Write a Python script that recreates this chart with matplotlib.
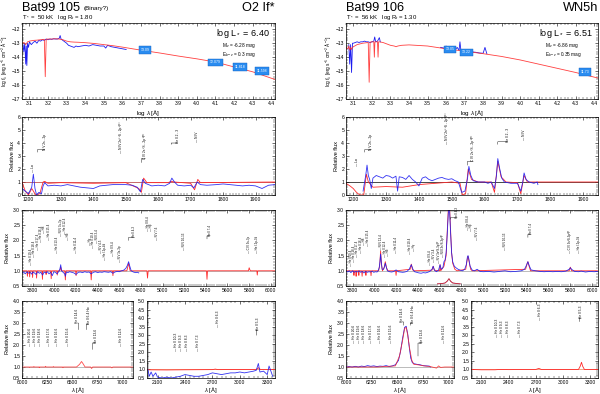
import numpy as np
import matplotlib.pyplot as plt
from matplotlib.ticker import MultipleLocator

plt.rcParams['font.family'] = ['Liberation Sans', 'DejaVu Sans']
plt.rcParams['mathtext.fontset'] = 'custom'
plt.rcParams['mathtext.rm'] = 'Liberation Sans'
plt.rcParams['mathtext.it'] = 'Liberation Sans:italic'

BLUE = '#1c1cf0'
RED = '#ff2b2b'

# ---------------- SED (log lambda, log f) ----------------
sed_mod_105 = [(3.06, -13.0), (3.07, -12.95), (3.08, -13.1), (3.09, -12.9), (3.10, -12.85), (3.12, -12.8),
               (3.14, -12.78), (3.16, -12.75), (3.18, -12.72), (3.185, -15.4), (3.19, -12.72), (3.20, -12.7),
               (3.22, -12.7), (3.24, -12.68), (3.26, -12.7), (3.28, -12.75), (3.30, -12.85), (3.32, -12.9),
               (3.34, -12.92), (3.36, -12.93), (3.40, -12.96), (3.45, -13.02), (3.50, -13.1), (3.55, -13.18),
               (3.60, -13.28), (3.70, -13.5), (3.80, -13.7), (3.90, -13.92), (4.00, -14.12), (4.10, -14.35),
               (4.20, -14.7), (4.30, -15.05), (4.42, -15.6)]
sed_obs_105 = [(3.065, -13.1), (3.07, -13.6), (3.075, -13.0), (3.08, -14.5), (3.083, -13.2), (3.086, -14.6),
               (3.09, -13.0), (3.095, -13.3), (3.10, -12.9), (3.11, -13.1), (3.12, -12.95), (3.13, -12.85),
               (3.14, -13.0), (3.15, -12.8), (3.16, -12.85), (3.17, -12.75), (3.18, -12.8), (3.19, -12.7),
               (3.20, -12.75), (3.21, -12.7), (3.22, -12.72), (3.23, -12.68), (3.24, -12.7), (3.25, -12.7),
               (3.26, -12.65), (3.265, -12.45), (3.27, -12.7), (3.28, -12.8), (3.29, -12.9), (3.30, -13.0),
               (3.31, -13.15), (3.32, -13.2), (3.33, -13.25), (3.34, -13.3), (3.35, -13.2), (3.36, -13.25),
               (3.38, -13.2), (3.40, -13.15), (3.42, -13.2), (3.44, -13.1), (3.46, -13.15), (3.48, -13.2),
               (3.50, -13.2), (3.51, -13.35), (3.52, -13.15), (3.54, -13.25), (3.56, -13.3), (3.58, -13.35),
               (3.60, -13.4), (3.62, -13.45)]
phot_105 = [(3.72, -13.5, '13.09'), (4.10, -14.38, '12.079'), (4.23, -14.72, '11.818'), (4.35, -14.98, '11.598')]

sed_mod_106 = [(3.06, -13.3), (3.07, -13.4), (3.075, -13.2), (3.08, -13.5), (3.085, -13.3), (3.09, -13.45),
               (3.095, -13.3), (3.10, -13.25), (3.12, -13.1), (3.15, -13.0), (3.18, -12.95), (3.185, -15.8),
               (3.19, -12.95), (3.195, -12.9), (3.20, -12.9), (3.21, -12.9), (3.213, -14.0), (3.216, -12.9),
               (3.22, -12.9), (3.23, -12.9), (3.233, -14.0), (3.236, -12.9), (3.24, -12.9), (3.26, -12.95),
               (3.30, -13.15), (3.32, -13.2), (3.33, -13.25), (3.34, -13.2), (3.36, -13.15), (3.40, -13.12),
               (3.50, -13.2), (3.60, -13.4), (3.70, -13.57), (3.80, -13.75), (3.90, -13.95), (4.00, -14.2),
               (4.10, -14.5), (4.20, -14.8), (4.30, -15.1), (4.42, -15.5)]
sed_obs_106_uv = [(3.075, -13.1), (3.08, -14.5), (3.085, -13.1), (3.09, -15.1), (3.095, -13.0), (3.10, -13.0),
                  (3.11, -12.95), (3.12, -12.9), (3.13, -12.95), (3.14, -12.9), (3.15, -12.9), (3.16, -12.85),
                  (3.17, -12.9), (3.18, -12.9), (3.19, -12.95), (3.20, -12.9), (3.21, -12.85), (3.215, -12.55),
                  (3.22, -12.9), (3.23, -12.85), (3.24, -12.6), (3.245, -12.9)]
sed_obs_106_opt = [(3.57, -13.3), (3.59, -13.35), (3.60, -13.2), (3.61, -13.4), (3.62, -13.4), (3.63, -13.45),
                   (3.65, -13.45), (3.66, -13.3), (3.67, -13.5), (3.675, -12.9), (3.68, -13.5), (3.70, -13.55),
                   (3.72, -13.6), (3.74, -13.62), (3.76, -13.65), (3.78, -13.7), (3.80, -13.72), (3.81, -13.3),
                   (3.82, -13.75)]
phot_106 = [(3.62, -13.45, '13.05'), (3.71, -13.65, '13.22'), (4.35, -15.05, '11.73')]

# ---------------- UV (1180 - 1960 A) ----------------
uv_obs_105 = [(1180, 0.5), (1190, 0.3), (1200, 0.1), (1210, 0.6), (1215, 1.6), (1220, 0.5), (1225, 0.0),
              (1232, 0.2), (1240, 0.1), (1245, 0.7), (1250, 0.95), (1260, 0.7), (1280, 0.75), (1300, 0.7),
              (1320, 0.8), (1340, 0.7), (1360, 0.6), (1380, 0.55), (1400, 0.5), (1420, 0.7), (1440, 0.75),
              (1460, 0.8), (1480, 0.8), (1500, 0.8), (1520, 0.75), (1535, 0.6), (1545, 0.25), (1552, 1.2),
              (1560, 0.9), (1580, 0.7), (1600, 0.75), (1620, 0.7), (1635, 0.9), (1642, 1.3), (1650, 1.0),
              (1660, 0.75), (1680, 0.7), (1700, 0.75), (1710, 0.55), (1720, 1.0), (1730, 0.8), (1750, 0.75),
              (1780, 0.8), (1800, 0.85), (1820, 0.8), (1840, 0.75), (1860, 0.7), (1880, 0.75), (1900, 0.7),
              (1920, 0.5), (1940, 0.75), (1960, 0.8)]
uv_mod_105 = [(1180, 1.0), (1190, 0.3), (1200, 0.0), (1210, 0.5), (1215, 0.3), (1222, 0.0), (1235, 0.1),
              (1245, 1.0), (1250, 1.05), (1260, 0.9), (1300, 0.95), (1400, 0.9), (1500, 0.95), (1540, 0.5),
              (1548, 0.2), (1555, 1.3), (1565, 0.95), (1630, 0.95), (1640, 1.05), (1650, 1.0), (1700, 0.9),
              (1712, 0.4), (1722, 1.2), (1730, 0.95), (1960, 1.0)]

uv_obs_106 = [(1230, 0.3), (1238, 1.5), (1242, 2.3), (1246, 1.5), (1250, 1.2), (1255, 0.5), (1260, 1.3),
              (1270, 1.5), (1280, 1.4), (1290, 1.3), (1300, 1.5), (1310, 1.45), (1320, 1.3), (1330, 1.45),
              (1335, 0.3), (1340, 1.4), (1350, 1.35), (1360, 1.2), (1370, 1.5), (1380, 1.2), (1390, 1.0),
              (1400, 0.7), (1410, 1.3), (1420, 1.4), (1430, 1.2), (1440, 1.1), (1450, 1.2), (1460, 1.3),
              (1470, 1.35), (1480, 1.25), (1490, 1.2), (1500, 1.25), (1510, 1.1), (1520, 1.0), (1530, 0.2),
              (1540, 0.3), (1548, 1.3), (1552, 2.2), (1558, 1.5), (1565, 1.1), (1580, 1.0), (1600, 1.0),
              (1610, 0.9), (1620, 1.0), (1630, 0.5), (1636, 1.5), (1640, 2.8), (1646, 2.0), (1652, 1.3),
              (1660, 1.0), (1680, 0.9), (1700, 0.9), (1710, 0.3), (1716, 1.0), (1720, 1.7), (1726, 1.2),
              (1735, 1.0), (1750, 0.9), (1760, 1.0), (1762, 0.8)]
uv_mod_106 = [(1178, 0.9), (1190, 0.7), (1200, 0.5), (1210, 0.2), (1220, 0.0), (1232, 0.0), (1240, 1.6),
              (1246, 1.0), (1260, 0.6), (1300, 0.65), (1350, 0.6), (1400, 0.8), (1450, 0.9), (1500, 1.0),
              (1525, 0.9), (1532, 0.0), (1542, 0.1), (1550, 2.0), (1560, 1.2), (1580, 1.0), (1620, 1.0),
              (1630, 0.2), (1640, 2.6), (1650, 1.4), (1665, 1.0), (1700, 0.95), (1710, 0.1), (1720, 1.5),
              (1730, 1.0), (1945, 1.0)]

uv_ids_105 = [(1215, 'Lα', 1.8), (1486, 'N IV 2s² ¹S - 2p ¹P°', 3.2), (1720, 'N IV', 4.1)]
uv_bent_105 = [(1228, 3.3, 1250, 3.5, 'N V 2s - 2p'), (1548, 2.5, 1560, 2.8, 'C IV 2s ²S - 2p ²P°'),
               (1640, 3.9, 1660, 4.0, 'He II 2 - 3')]
uv_ids_106 = [(1212, 'Lα', 2.2), (1486, 'N IV 2s² ¹S - 2p ¹P°', 3.9), (1720, 'N IV', 4.2)]
uv_bent_106 = [(1235, 3.3, 1255, 3.5, 'N V 2s - 2p'), (1548, 2.3, 1565, 2.6, 'C IV 2s ²S - 2p ²P°'),
               (1640, 3.9, 1670, 4.1, 'He II 2 - 3')]

# ---------------- optical (3700 - 6000 A) ----------------
opt_obs_105 = [(3700, 0.93), (3715, 0.96), (3730, 0.9), (3745, 0.97), (3760, 0.92), (3775, 0.95), (3790, 0.89),
               (3800, 0.96), (3815, 0.93), (3830, 0.88), (3845, 0.97), (3860, 0.92), (3875, 0.95), (3890, 0.86),
               (3905, 0.96), (3920, 0.93), (3935, 0.97), (3950, 0.9), (3965, 0.95), (3980, 0.84), (3995, 0.97),
               (4010, 0.95), (4025, 0.9), (4040, 0.98), (4050, 1.05), (4058, 1.2), (4066, 1.0), (4080, 0.95),
               (4095, 0.9), (4101, 0.82), (4110, 0.96), (4125, 0.94), (4140, 0.97), (4160, 0.95), (4180, 0.93),
               (4200, 0.88), (4220, 0.95), (4240, 0.96), (4260, 0.94), (4280, 0.97), (4300, 0.95), (4320, 0.96),
               (4340, 0.9), (4360, 0.95), (4380, 0.97), (4400, 0.94), (4420, 0.96), (4440, 0.95), (4460, 0.97),
               (4480, 0.96), (4500, 0.95), (4520, 0.97), (4541, 0.92), (4560, 0.96), (4580, 0.98), (4600, 0.97),
               (4620, 1.0), (4640, 1.02), (4660, 1.08), (4675, 1.18), (4686, 1.3), (4697, 1.15), (4710, 1.0),
               (4730, 0.96), (4750, 0.94), (4770, 0.95), (4780, 0.93)]
opt_mod_105 = [(3700, 1.0), (3745, 1.0), (3750, 0.82), (3755, 1.0), (3767, 1.0), (3771, 0.8), (3775, 1.0),
               (3794, 1.0), (3798, 0.78), (3802, 1.0), (3831, 1.0), (3835, 0.76), (3839, 1.0), (3885, 1.0),
               (3889, 0.72), (3893, 1.0), (3920, 1.0), (3923, 0.88), (3926, 1.0), (3966, 1.0), (3970, 0.74),
               (3974, 1.0), (4022, 1.0), (4026, 0.86), (4030, 1.0), (4050, 1.0), (4058, 1.12), (4066, 1.0),
               (4096, 1.0), (4101, 0.7), (4106, 1.0), (4196, 1.0), (4200, 0.84), (4204, 1.0), (4335, 1.0),
               (4340, 0.7), (4345, 1.0), (4537, 1.0), (4541, 0.84), (4545, 1.0), (4670, 1.0), (4686, 1.25),
               (4700, 1.0), (4855, 1.0), (4861, 0.76), (4867, 1.0), (5406, 1.0), (5411, 0.72), (5416, 1.0),
               (5795, 1.0), (5801, 1.1), (5807, 1.04), (5812, 1.0), (5872, 1.0), (5876, 0.86), (5880, 1.0),
               (6040, 1.0)]
opt_ids_105 = [(3785, 'He II 19-4', 1.2), (3815, 'He II 18-4', 1.45), (3845, 'He II 17-4', 1.7),
               (3875, 'He II 16-4', 1.95), (3905, 'H8', 2.25), (3950, 'He II 15-4', 2.0),
               (4026, 'He II 13-4', 1.6), (4058, 'N IV 3s-3p', 2.15), (4101, 'He II 12-4', 2.2),
               (4125, 'Hδ', 2.0), (4200, 'He II 11-4', 1.6), (4330, 'Hγ', 1.85), (4360, 'He II 10-4', 1.75),
               (4395, 'N III 3-4', 1.9), (4430, 'N V 4-5', 1.6), (4471, 'He I 2p-4d', 1.35),
               (4541, 'He II 9-4', 1.5), (4604, 'N V 3s-3p', 1.3), (4861, 'He II 8-4', 2.3),
               (4890, 'Hβ', 2.3), (4945, 'N V 7-6', 2.0), (5200, 'N IV 10-13', 1.7),
               (5801, 'C IV 3s-3p', 1.6), (5876, 'He I 2p-3d', 1.6)]
opt_bent_105 = [(4686, 2.0, 4740, 2.1, 'He II 4-3'), (5411, 2.05, 5440, 2.15, 'He II 7-4')]

opt_obs_106 = [(3740, 1.0), (3755, 0.96), (3770, 1.0), (3785, 0.94), (3800, 1.0),
               (3815, 0.95), (3830, 0.98), (3845, 0.96), (3860, 1.0), (3875, 0.95), (3890, 0.98), (3905, 0.93),
               (3920, 0.98), (3935, 0.95), (3950, 0.97), (3965, 0.96), (3980, 0.99), (3995, 0.95), (4010, 0.97),
               (4025, 0.96), (4035, 1.0), (4045, 1.1), (4052, 1.3), (4058, 1.55), (4064, 1.3), (4072, 1.05),
               (4085, 1.05), (4095, 1.15), (4101, 1.25), (4108, 1.15), (4120, 1.0), (4140, 0.97), (4160, 0.96),
               (4180, 0.98), (4200, 1.03), (4220, 0.97), (4240, 0.96), (4260, 0.95), (4280, 0.96), (4300, 0.98),
               (4320, 1.05), (4340, 1.2), (4355, 1.05), (4370, 0.97), (4390, 0.95), (4410, 0.93), (4430, 0.92),
               (4450, 0.94), (4470, 0.93), (4490, 0.95), (4510, 0.98), (4530, 1.05), (4541, 1.15), (4552, 1.02),
               (4570, 0.97), (4590, 1.02), (4604, 1.2), (4615, 1.05), (4630, 1.1), (4640, 1.3), (4650, 1.35),
               (4660, 1.6), (4670, 2.2), (4680, 2.9), (4686, 3.1), (4692, 2.95), (4700, 2.3), (4710, 1.6),
               (4720, 1.3), (4735, 1.15), (4750, 1.1), (4770, 1.05), (4790, 1.02), (4810, 1.0), (4830, 1.05),
               (4845, 1.2), (4855, 1.45), (4861, 1.5), (4868, 1.4), (4880, 1.15), (4900, 1.02), (4920, 1.0),
               (4945, 1.05), (4970, 0.98), (5000, 0.97), (5050, 0.98), (5100, 0.96), (5150, 0.98), (5200, 1.0),
               (5250, 0.97), (5300, 0.98), (5350, 1.0), (5380, 1.05), (5400, 1.2), (5411, 1.3), (5422, 1.18),
               (5440, 1.03), (5480, 1.0), (5520, 0.98), (5560, 0.97), (5600, 0.98), (5640, 0.97), (5680, 0.98),
               (5720, 0.97), (5760, 0.99), (5790, 1.05), (5801, 1.1), (5812, 1.05), (5840, 0.98), (5876, 0.97),
               (5900, 0.99), (5940, 0.96), (5980, 0.98), (6020, 0.97), (6050, 0.98)]
opt_mod_106 = [(3740, 1.0), (3810, 1.0), (3813, 0.85), (3816, 1.0), (3830, 1.0), (3833, 0.82), (3836, 1.0),
               (3855, 1.0), (3858, 0.85), (3861, 1.0), (3884, 1.0), (3888, 0.82), (3892, 1.0), (3920, 1.0),
               (3923, 0.85), (3926, 1.0), (3966, 1.0), (3970, 0.84), (3974, 1.0), (4040, 1.0), (4050, 1.2),
               (4058, 1.65), (4066, 1.2), (4075, 1.0), (4090, 1.1), (4101, 1.3), (4112, 1.1), (4125, 1.0),
               (4196, 1.0), (4200, 0.85), (4204, 1.0), (4330, 1.05), (4340, 1.22), (4350, 1.05), (4360, 1.0),
               (4530, 1.02), (4541, 1.15), (4552, 1.02), (4600, 1.0), (4604, 1.2), (4610, 1.0), (4640, 1.15),
               (4660, 1.5), (4670, 2.3), (4680, 3.05), (4686, 3.2), (4692, 3.05), (4700, 2.4), (4710, 1.6),
               (4720, 1.25), (4740, 1.05), (4760, 1.0), (4840, 1.05), (4855, 1.4), (4861, 1.48), (4868, 1.35),
               (4885, 1.05), (4900, 1.0), (5390, 1.05), (5405, 1.25), (5411, 1.3), (5418, 1.2), (5435, 1.0),
               (5790, 1.0), (5801, 1.12), (5812, 1.0), (6050, 1.0)]
inset_106 = [(4580, 0.57), (4620, 0.58), (4650, 0.6), (4670, 0.66), (4686, 0.74), (4700, 0.66), (4720, 0.6),
             (4760, 0.58), (4790, 0.57)]
opt_ids_106 = [(3785, 'He II 19-4', 1.15), (3815, 'He II 18-4', 1.3), (3845, 'He II 17-4', 1.45),
               (3875, 'He II 16-4', 1.6), (3905, 'H8', 1.85), (3945, 'He II 15-4', 1.8),
               (4058, 'N IV 13-4', 1.7), (4101, 'He II 12-4', 1.45), (4128, 'Hδ', 1.5),
               (4200, 'He II 11-4', 1.6), (4330, 'He II 10-4', 1.55), (4362, 'Hγ', 1.65),
               (4510, 'He II 9-4', 1.2), (4545, 'N V 3-4', 1.3), (4590, 'N V 3s²S-3p²P', 1.25),
               (4630, 'N III 3s²S-3p²P', 1.45), (4861, 'He II 8-4', 2.35), (4890, 'Hβ', 2.3),
               (4945, 'N V 7-6', 2.0), (5200, 'N IV 10-13', 1.7), (5801, 'C IV 3s²S-3p²P', 1.6),
               (5876, 'He I 2p-3d', 1.6)]
opt_bent_106 = [(4700, 2.7, 4760, 2.75, 'He II 4-3'), (5411, 2.1, 5440, 2.2, 'He II 7-4')]

# ---------------- H alpha region ----------------
ha_mod_105 = [(6000, 1.0), (6070, 1.0), (6074, 0.98), (6078, 1.0), (6115, 1.0), (6118, 1.02), (6121, 1.0),
              (6168, 1.0), (6171, 0.97), (6174, 1.0), (6230, 1.0), (6234, 1.03), (6238, 1.0), (6307, 1.0),
              (6311, 1.02), (6315, 1.0), (6402, 1.0), (6406, 0.97), (6410, 1.0), (6540, 1.0), (6570, 1.12),
              (6590, 1.25), (6605, 1.15), (6625, 1.0), (6680, 1.0), (6690, 0.93), (6700, 1.0), (6880, 1.0),
              (6891, 0.96), (6900, 1.0), (7100, 1.0)]
ha_ids_105 = [(6083, 'He II 20-6', 1.95), (6133, 'He II 19-6', 1.95), (6183, 'He II 18-6', 1.95),
              (6263, 'He II 17-6', 1.95), (6343, 'He II 16-6', 1.95), (6453, 'He II 15-6', 1.95),
              (6983, 'He II 12-6', 1.95)]
ha_bent_105 = [(6560, 2.7, 6550, 3.0, 'He II 14-6'), (6640, 2.7, 6660, 2.95, 'He II 6-4 Hα'),
               (6700, 1.8, 6730, 2.1, 'He II 13-6')]

ha_obs_106 = [(6000, 1.0), (6030, 1.02), (6060, 1.0), (6090, 1.03), (6120, 1.0), (6150, 1.04), (6180, 1.02),
              (6210, 1.06), (6240, 1.03), (6270, 1.05), (6300, 1.02), (6330, 1.04), (6360, 1.03), (6390, 1.06),
              (6420, 1.02), (6450, 1.05), (6480, 1.1), (6510, 1.3), (6530, 1.7), (6550, 2.3), (6570, 2.8),
              (6585, 2.85), (6600, 2.5), (6615, 1.9), (6630, 1.4), (6645, 1.2), (6660, 1.15), (6690, 1.12),
              (6720, 1.1), (6750, 1.06), (6780, 1.05), (6810, 1.04), (6820, 1.0)]
ha_mod_106 = [(6000, 1.0), (6300, 1.0), (6480, 1.05), (6520, 1.5), (6550, 2.2), (6570, 2.75), (6585, 2.8),
              (6600, 2.45), (6620, 1.8), (6640, 1.3), (6660, 1.12), (6700, 1.1), (6760, 1.05), (6820, 1.02),
              (6880, 0.95), (6900, 1.05), (6920, 0.98), (6960, 1.0), (7050, 1.0)]
ha_ids_106 = [(6080, 'He II 20-6', 2.1), (6128, 'He II 19-6', 2.1), (6176, 'He II 18-6', 2.1),
              (6247, 'He II 17-6', 2.1), (6330, 'He II 16-6', 2.1), (6440, 'He II 15-6', 2.1),
              (6952, 'He II 12-6', 2.1)]
ha_bent_106 = [(6560, 2.9, 6545, 3.05, 'He II 14-6'), (6625, 2.9, 6650, 3.0, 'He II 6-4 Hα'),
               (6700, 1.5, 6740, 2.1, 'He II 13-6')]

# ---------------- near UV (2000 - 3380 A) ----------------
nuv_obs_105 = [(1995, 1.0), (2010, 0.6), (2030, 0.85), (2050, 0.6), (2080, 0.8), (2100, 0.55), (2150, 0.5),
               (2200, 0.55), (2250, 0.5), (2300, 0.55), (2350, 0.6), (2400, 0.7), (2450, 0.65), (2500, 0.6),
               (2550, 0.6), (2600, 0.65), (2650, 0.7), (2700, 0.8), (2750, 0.75), (2800, 0.7), (2850, 0.75),
               (2900, 0.8), (2950, 0.8), (3000, 0.85), (3050, 0.8), (3100, 0.85), (3150, 0.9), (3180, 0.95),
               (3203, 1.35), (3220, 0.85), (3260, 0.9), (3300, 0.7), (3320, 1.2), (3340, 0.9), (3360, 0.6)]
nuv_mod_105 = [(1985, 0.98), (2200, 0.97), (2400, 0.98), (2700, 0.99), (2733, 1.02), (2760, 0.99),
               (3180, 1.0), (3203, 1.1), (3225, 1.0), (3385, 1.0)]
nuv_ids_105 = [(2300, 'He II 10-3', 2.1), (2355, 'He II 9-3', 2.1), (2420, 'He II 8-3', 2.1),
               (2547, 'He II 7-3', 2.1), (2760, 'He II 6-3', 3.5)]
nuv_bent_105 = [(3180, 3.0, 3200, 3.3, 'He II 5-3')]

nuv_mod_106 = [(1985, 1.0), (2100, 0.98), (2250, 0.98), (2300, 1.0), (2400, 0.99), (2700, 1.0), (2733, 1.06),
               (2760, 1.0), (3170, 1.0), (3190, 1.2), (3203, 1.42), (3215, 1.2), (3235, 1.0), (3385, 1.0)]
nuv_ids_106 = [(2272, 'He II 10-3', 2.9), (2327, 'He II 9-3', 2.9), (2393, 'He II 8-3', 2.9),
               (2521, 'He II 7-3', 2.9), (2741, 'He II 6-3', 3.9)]
nuv_bent_106 = [(3180, 3.8, 3200, 4.0, 'He II 5-3')]


def rect(x0, y0, x1, y1):
    return [x0 / 600, 1 - y1 / 394, (x1 - x0) / 600, (y1 - y0) / 394]


def style(ax, xlim, ylim, xmaj, xmin, ymaj, ymin):
    ax.set_xlim(*xlim)
    ax.set_ylim(*ylim)
    ax.xaxis.set_major_locator(MultipleLocator(xmaj))
    ax.xaxis.set_minor_locator(MultipleLocator(xmin))
    ax.yaxis.set_major_locator(MultipleLocator(ymaj))
    ax.yaxis.set_minor_locator(MultipleLocator(ymin))
    ax.tick_params(which='both', direction='in', top=True, right=True, labelsize=3.6, pad=1.3)
    ax.tick_params(which='major', length=2, width=0.4)
    ax.tick_params(which='minor', length=1.1, width=0.3)
    for s in ax.spines.values():
        s.set_linewidth(0.5)


def xy(pairs):
    a = np.array(pairs, dtype=float)
    return a[:, 0], a[:, 1]


def ids(ax, straight, bent, fs=2.3):
    for x, txt, y in straight:
        ax.text(x, y, '— ' + txt, rotation=90, fontsize=fs, ha='center', va='bottom')
    for x0, y0, x1, y1, txt in bent:
        ax.plot([x0, x0, x1], [y0, y1 - 0.02 * (y1 - y0), y1], color='k', lw=0.3)
        ax.text(x1, y1, txt, rotation=90, fontsize=fs, ha='center', va='bottom')


fig = plt.figure(figsize=(6, 3.94), dpi=100)

columns = [
    dict(x0=22, x1=275, xb=133, xc=147, name='Bat99 105', extra='(Binary?)', sp='O2 If*',
         pars=r'T$_*$ =  50 kK   log R$_t$ = 1.80', logl='6.40', mv='-6.28', ebv='0.3',
         sed_mod=sed_mod_105, sed_obs=[sed_obs_105], phot=phot_105, uvlim=(1180, 1960),
         uv_obs=uv_obs_105, uv_mod=uv_mod_105, uv_ids=(uv_ids_105, uv_bent_105),
         opt_obs=opt_obs_105, opt_mod=opt_mod_105, optlim=(3700, 6040),
         opt_ids=(opt_ids_105, opt_bent_105), inset=None,
         ha_obs=None, ha_mod=ha_mod_105, halim=(6000, 7100), ha_ids=(ha_ids_105, ha_bent_105),
         nuv_obs=nuv_obs_105, nuv_mod=nuv_mod_105, nuv_ids=(nuv_ids_105, nuv_bent_105)),
    dict(x0=346, x1=598, xb=454, xc=471, name='Bat99 106', extra='', sp='WN5h',
         pars=r'T$_*$ =  56 kK   log R$_t$ = 1.30', logl='6.51', mv='-6.86', ebv='0.35',
         sed_mod=sed_mod_106, sed_obs=[sed_obs_106_uv, sed_obs_106_opt], phot=phot_106, uvlim=(1178, 1945),
         uv_obs=uv_obs_106, uv_mod=uv_mod_106, uv_ids=(uv_ids_106, uv_bent_106),
         opt_obs=opt_obs_106, opt_mod=opt_mod_106, optlim=(3740, 6055),
         opt_ids=(opt_ids_106, opt_bent_106), inset=inset_106,
         ha_obs=ha_obs_106, ha_mod=ha_mod_106, halim=(6000, 7050), ha_ids=(ha_ids_106, ha_bent_106),
         nuv_obs=None, nuv_mod=nuv_mod_106, nuv_ids=(nuv_ids_106, nuv_bent_106)),
]

for c in columns:
    x0, x1 = c['x0'], c['x1']
    # titles
    fig.text(x0 / 600, 1 - 11 / 394, c['name'], fontsize=9.2, ha='left', va='baseline')
    if c['extra']:
        fig.text((x0 + 62) / 600, 1 - 10 / 394, c['extra'], fontsize=4.5, ha='left', va='baseline')
    fig.text(x1 / 600, 1 - 11 / 394, c['sp'], fontsize=9.2, ha='right', va='baseline')
    fig.text(x0 / 600, 1 - 19 / 394, c['pars'], fontsize=4.3, ha='left', va='baseline')

    # SED
    ax = fig.add_axes(rect(x0, 23, x1, 99))
    style(ax, (3.06, 4.42), (-17, -11.55), 0.1, 0.02, 1, 0.2)
    for part in c['sed_obs']:
        ax.plot(*xy(part), color=BLUE, lw=0.6)
    ax.plot(*xy(c['sed_mod']), color=RED, lw=0.6, alpha=0.9)
    for px, py, lab in c['phot']:
        ax.text(px, py, lab, fontsize=2.5, color='white', ha='center', va='center',
                bbox=dict(boxstyle='square,pad=0.5', fc='#2a8cf0', ec='#1060c0', lw=0.3))
    ax.text(0.98, 0.83, r'log L$_*$ = ' + c['logl'], transform=ax.transAxes, fontsize=6.5, ha='right')
    ax.text(0.79, 0.69, r'M$_v$ = ' + c['mv'] + ' mag', transform=ax.transAxes, fontsize=3.4, ha='left')
    ax.text(0.79, 0.57, r'E$_{b-v}$ = ' + c['ebv'] + ' mag', transform=ax.transAxes, fontsize=3.4, ha='left')
    ax.set_xlabel(r'log $\lambda$ [Å]', fontsize=4.5, labelpad=1.5)
    ax.set_ylabel(r'log $f_\lambda$ [erg s$^{-1}$ cm$^{-2}$ Å$^{-1}$]', fontsize=3.4, labelpad=1)

    # UV
    ax = fig.add_axes(rect(x0, 117, x1, 195))
    style(ax, c['uvlim'], (0, 6), 100, 10, 1, 0.2)
    ax.axhline(1, color='#b03030' if c['name'].endswith('105') else 'k', lw=0.5)
    ax.plot(*xy(c['uv_mod']), color=RED, lw=0.6)
    ax.plot(*xy(c['uv_obs']), color=BLUE, lw=0.6, alpha=0.9)
    ids(ax, *c['uv_ids'])
    ax.set_ylabel('Relative flux', fontsize=4.0, labelpad=2)

    # optical
    ax = fig.add_axes(rect(x0, 210, x1, 286))
    style(ax, c['optlim'], (0.5, 3.0), 200, 20, 0.5, 0.1)
    ax.axhline(1, color='#888888', lw=0.4)
    ax.plot(*xy(c['opt_mod']), color=RED, lw=0.6)
    ax.plot(*xy(c['opt_obs']), color=BLUE, lw=0.6, alpha=0.9)
    if c['inset'] is not None:
        ax.plot(*xy(c['inset']), color='#8b1a4a', lw=0.6)
        ax.plot(*xy(c['inset']), color=RED, lw=0.4, alpha=0.7)
    ids(ax, *c['opt_ids'], fs=2.1)
    ax.set_ylabel('Relative flux', fontsize=4.0, labelpad=2)

    # H alpha region
    ax = fig.add_axes(rect(x0, 301, c['xb'], 378))
    style(ax, c['halim'], (0.5, 4.0), 250, 50, 0.5, 0.1)
    ax.axhline(1, color='#888888', lw=0.4)
    if c['ha_obs'] is not None:
        ax.plot(*xy(c['ha_obs']), color=BLUE, lw=0.6)
    ax.plot(*xy(c['ha_mod']), color=RED, lw=0.6, alpha=0.85)
    ids(ax, *c['ha_ids'])
    ax.set_ylabel('Relative flux', fontsize=4.0, labelpad=2)
    ax.set_xlabel(r'$\lambda$ [Å]', fontsize=4.2, labelpad=0.3)

    # near UV
    ax = fig.add_axes(rect(c['xc'], 301, x1, 378))
    style(ax, (1985, 3385), (0.5, 5.0), 300, 50, 0.5, 0.1)
    ax.axhline(1, color='#e07030', lw=0.4)
    ax.plot(*xy(c['nuv_mod']), color=RED, lw=0.6)
    if c['nuv_obs'] is not None:
        ax.plot(*xy(c['nuv_obs']), color=BLUE, lw=0.6, alpha=0.9)
    ids(ax, *c['nuv_ids'])
    ax.set_xlabel(r'$\lambda$ [Å]', fontsize=4.2, labelpad=0.3)

fig.savefig('out.png', dpi=100)
